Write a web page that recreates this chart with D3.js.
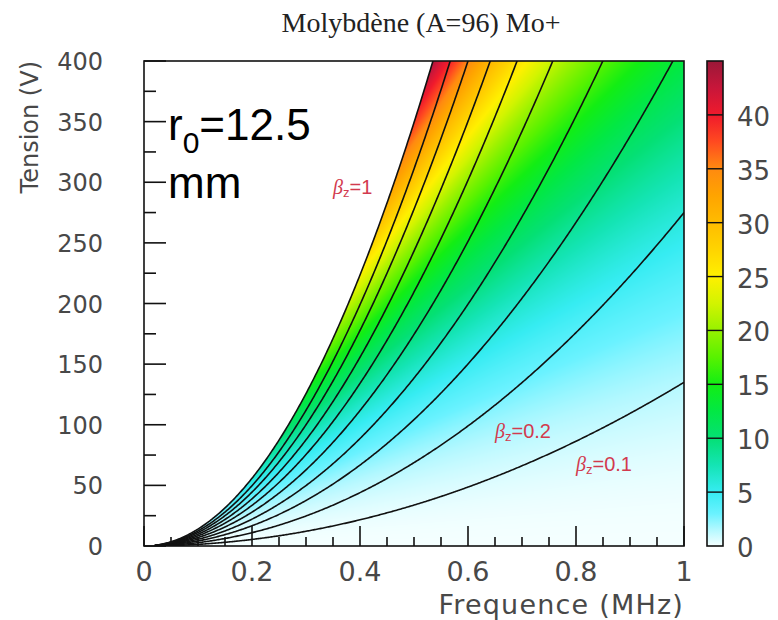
<!DOCTYPE html>
<html>
<head>
<meta charset="utf-8">
<script src="https://cdn.jsdelivr.net/npm/d3@7"></script>
<style>
  html, body { margin: 0; padding: 0; background: #ffffff; }
  svg { display: block; }
</style>
</head>
<body>
<svg id="chart" width="778" height="620"></svg>
<script>
// ---------------- data ----------------
const titleText = "Molybdène (A=96) Mo+";
const xTitle = "Frequence (MHz)";
const yTitle = "Tension (V)";
const freqTicks = [0, 0.2, 0.4, 0.6, 0.8, 1];
const freqTickLabels = ["0", "0.2", "0.4", "0.6", "0.8", "1"];
const voltTicks = [0, 50, 100, 150, 200, 250, 300, 350, 400];
const voltTickLabels = ["0", "50", "100", "150", "200", "250", "300", "350", "400"];
// contour levels of beta_z, and the voltage each contour reaches at 1 MHz (V = v1 * f^2)
const betaLevels = [0.1, 0.2, 0.3, 0.4, 0.5, 0.6, 0.7, 0.8, 0.9, 1.0];
const levelV1MHz = [135, 275, 417, 554, 698, 838, 973, 1111, 1244, 1397];
// value shown by colour = depthCoef * beta * V
const depthCoef = 0.11;
// colour palette (z values and colours)
const zStops = [0, 1.5, 3, 5, 7.5, 10, 12.5, 15, 17.5, 20, 22.5, 25, 27.5, 30, 32.5, 35, 37.5, 40, 42.5, 45];
const zColors = ["#f4ffff", "#b4f8ff", "#6af2ff", "#36ecf2", "#14e4b4", "#04e074", "#02e844", "#12ee14", "#58f200", "#96f200",
                 "#d2f400", "#fff000", "#ffd400", "#ffbc00", "#ffa400", "#ff8a10", "#ff4a20", "#f01a2c", "#c8163a", "#9a1838"];
const colorTicks = [0, 5, 10, 15, 20, 25, 30, 35, 40];
const colorMax = 45;
const betaLabels = [
  {main: "β", sub: "z", rest: "=1", f: 0.35, v: 290},
  {main: "β", sub: "z", rest: "=0.2", f: 0.65, v: 89},
  {main: "β", sub: "z", rest: "=0.1", f: 0.80, v: 62}
];

// ---------------- layout ----------------
const svg = d3.select("#chart");
const P = {left: 144, right: 684, top: 61, bottom: 546};
const CB = {left: 707, right: 723};
const x = d3.scaleLinear().domain([0, 1]).range([P.left, P.right]);
const y = d3.scaleLinear().domain([0, 400]).range([P.bottom, P.top]);
const zc = d3.scaleLinear().domain(zStops).range(zColors).clamp(true);
const cbY = d3.scaleLinear().domain([0, colorMax]).range([P.bottom, P.top]);
// beta as a function of V/f^2, through the contour readings
const betaOf = d3.scaleLinear().domain([0].concat(levelV1MHz)).range([0].concat(betaLevels));

const font = "'DejaVu Sans', 'Liberation Sans', Arial, sans-serif";
const labelFill = "#484848";

// ---------------- colour field ----------------
const W = P.right - P.left, H = P.bottom - P.top;
const canvas = document.createElement("canvas");
canvas.width = W; canvas.height = H;
const ctx = canvas.getContext("2d");
const img = ctx.createImageData(W, H);
for (let j = 0; j < H; j++) {
  const V = y.invert(P.top + j + 0.5);
  for (let i = 0; i < W; i++) {
    const f = x.invert(P.left + i + 0.5);
    const wv = V / (f * f);
    let c;
    if (wv > levelV1MHz[levelV1MHz.length - 1]) {
      c = {r: 255, g: 255, b: 255};
    } else {
      const beta = betaOf(wv);
      c = d3.rgb(zc(depthCoef * beta * V));
    }
    const k = 4 * (j * W + i);
    img.data[k] = c.r; img.data[k + 1] = c.g; img.data[k + 2] = c.b; img.data[k + 3] = 255;
  }
}
ctx.putImageData(img, 0, 0);
svg.append("image")
  .attr("x", P.left).attr("y", P.top).attr("width", W).attr("height", H)
  .attr("href", canvas.toDataURL());

// ---------------- contour lines ----------------
svg.append("clipPath").attr("id", "plotclip").append("rect")
  .attr("x", P.left).attr("y", P.top).attr("width", W).attr("height", H);
const fs = d3.range(0.02, 1.0005, 0.002);
const line = d3.line().x(d => x(d[0])).y(d => y(d[1]));
svg.append("g").attr("clip-path", "url(#plotclip)")
  .selectAll("path").data(levelV1MHz).join("path")
  .attr("d", v1 => line(fs.map(f => [f, v1 * f * f])))
  .attr("fill", "none").attr("stroke", "#111").attr("stroke-width", 1.6);

// ---------------- frame & axes ----------------
svg.append("rect").attr("x", P.left).attr("y", P.top).attr("width", W).attr("height", H)
  .attr("fill", "none").attr("stroke", "#111").attr("stroke-width", 1.6);

const xMinor = d3.range(0, 1.0001, 0.05);
svg.append("g").selectAll("line").data(xMinor).join("line")
  .attr("x1", d => x(d)).attr("x2", d => x(d))
  .attr("y1", P.bottom).attr("y2", (d, i) => P.bottom - (i % 4 === 0 ? 20 : 9))
  .attr("stroke", "#111").attr("stroke-width", 1.6);
const yMinor = d3.range(0, 400.1, 25);
svg.append("g").selectAll("line").data(yMinor).join("line")
  .attr("y1", d => y(d)).attr("y2", d => y(d))
  .attr("x1", P.left).attr("x2", (d, i) => P.left + (i % 2 === 0 ? 22 : 12))
  .attr("stroke", "#111").attr("stroke-width", 1.6);

svg.append("g").selectAll("text").data(freqTicks).join("text")
  .attr("x", d => x(d)).attr("y", 581)
  .attr("text-anchor", "middle")
  .attr("font-family", font).attr("font-weight", 400).attr("font-size", 27).attr("fill", labelFill)
  .text((d, i) => freqTickLabels[i]);
svg.append("g").selectAll("text").data(voltTicks).join("text")
  .attr("x", 103).attr("y", d => y(d) + 9)
  .attr("text-anchor", "end")
  .attr("font-family", font).attr("font-weight", 400).attr("font-size", 24).attr("fill", labelFill)
  .text((d, i) => voltTickLabels[i]);

svg.append("text").attr("x", P.right).attr("y", 614).attr("text-anchor", "end")
  .attr("font-family", font).attr("font-weight", 400).attr("font-size", 27).attr("letter-spacing", 1.2)
  .attr("fill", labelFill).text(xTitle);
svg.append("text").attr("transform", `translate(38,${P.top}) rotate(-90)`).attr("text-anchor", "end")
  .attr("font-family", font).attr("font-weight", 400).attr("font-size", 24).attr("fill", labelFill).text(yTitle);

svg.append("text").attr("x", 421).attr("y", 32).attr("text-anchor", "middle")
  .attr("font-family", "'Liberation Serif', 'Times New Roman', serif").attr("font-size", 28)
  .attr("fill", "#222").text(titleText);

// ---------------- colour bar ----------------
const grad = svg.append("defs").append("linearGradient").attr("id", "cbgrad")
  .attr("x1", 0).attr("x2", 0).attr("y1", 1).attr("y2", 0);
grad.selectAll("stop").data(zStops).join("stop")
  .attr("offset", d => d / colorMax).attr("stop-color", (d, i) => zColors[i]);
svg.append("rect").attr("x", CB.left).attr("y", P.top).attr("width", CB.right - CB.left).attr("height", H)
  .attr("fill", "url(#cbgrad)").attr("stroke", "#111").attr("stroke-width", 1.6);
svg.append("g").selectAll("line").data(colorTicks.slice(1)).join("line")
  .attr("x1", CB.left).attr("x2", CB.right).attr("y1", d => cbY(d)).attr("y2", d => cbY(d))
  .attr("stroke", "#111").attr("stroke-width", 1.4);
svg.append("g").selectAll("text").data(colorTicks).join("text")
  .attr("x", 737).attr("y", d => cbY(d) + 11)
  .attr("font-family", font).attr("font-weight", 400).attr("font-size", 26).attr("fill", labelFill)
  .text(d => d);

// ---------------- annotations ----------------
const r0 = svg.append("text").attr("x", 168).attr("y", 140)
  .attr("font-family", "'Liberation Sans', Arial, sans-serif").attr("font-size", 44).attr("fill", "#000");
r0.append("tspan").text("r");
r0.append("tspan").attr("font-size", 30).attr("dy", 13).text("0");
r0.append("tspan").attr("dy", -13).text("=12.5");
svg.append("text").attr("x", 168).attr("y", 198)
  .attr("font-family", "'Liberation Sans', Arial, sans-serif").attr("font-size", 44).attr("fill", "#000").text("mm");

const bl = svg.append("g").selectAll("text").data(betaLabels).join("text")
  .attr("x", d => x(d.f)).attr("y", d => y(d.v))
  .attr("font-family", "'Liberation Sans', Arial, sans-serif").attr("font-size", 20).attr("fill", "#d23a4e");
bl.append("tspan").attr("font-style", "italic").attr("font-family", "'Liberation Serif', serif").text(d => d.main);
bl.append("tspan").attr("font-size", 13).attr("dy", 3).text(d => d.sub);
bl.append("tspan").attr("dy", -3).text(d => d.rest);
</script>
</body>
</html>
